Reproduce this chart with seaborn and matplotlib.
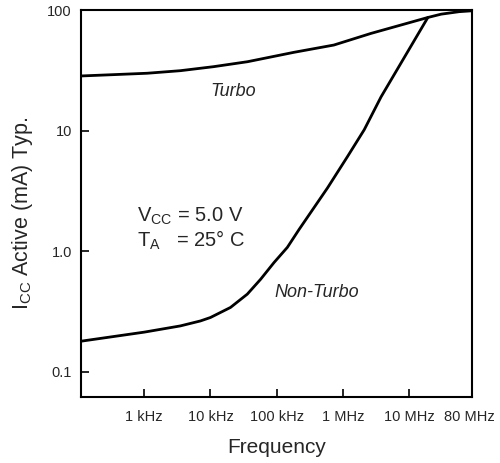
import numpy as np
import pandas as pd
import matplotlib
matplotlib.use("Agg")
import matplotlib.pyplot as plt
import seaborn as sns

# data (Hz, mA)
turbo_freq = [114, 339, 1.11e3, 3.51e3, 1.11e4, 3.64e4, 1.15e5, 1.81e5, 7.31e5, 2.66e6,
              8.4e6, 1.92e7, 3.05e7, 5.7e7, 9.3e7]
turbo_icc = [28.5, 29.2, 30.0, 31.5, 34.0, 37.4, 42.5, 44.7, 51.4, 64.2,
             76.6, 87.0, 92.7, 97.2, 99.0]

nonturbo_freq = [111, 1.0e3, 3.51e3, 7.06e3, 1.0e4, 2.01e4, 3.6e4, 5.72e4, 9.1e4, 1.45e5,
                 2.18e5, 5.86e5, 1.18e6, 2.10e6, 3.77e6, 5.73e6, 1.92e7]
nonturbo_icc = [0.180, 0.214, 0.241, 0.265, 0.283, 0.343, 0.442, 0.587, 0.807, 1.08,
                1.52, 3.36, 6.14, 10.2, 19.1, 28.2, 87.0]

xtick_vals = [1e3, 1e4, 1e5, 1e6, 1e7, 8e7]
xtick_labels = ["1 kHz", "10 kHz", "100 kHz", "1 MHz", "10 MHz", "80 MHz"]
ytick_vals = [0.1, 1, 10, 100]
ytick_labels = ["0.1", "1.0", "10", "100"]

sns.set_style("white")
plt.rcParams["font.family"] = ["Liberation Sans", "DejaVu Sans"]
plt.rcParams["mathtext.default"] = "regular"

df = pd.concat([
    pd.DataFrame({"freq": turbo_freq, "icc": turbo_icc, "mode": "Turbo"}),
    pd.DataFrame({"freq": nonturbo_freq, "icc": nonturbo_icc, "mode": "Non-Turbo"}),
])

fig = plt.figure(figsize=(5, 4.63), dpi=100)
ax = fig.add_axes([0.162, 0.1425, 0.782, 0.8355])
sns.lineplot(data=df, x="freq", y="icc", hue="mode", palette=["black", "black"],
             linewidth=2.0, legend=False, ax=ax, sort=False)
ax.set_xscale("log")
ax.set_yscale("log")
ax.set_xlim(10 ** 2.045, 10 ** 7.95)
ax.set_ylim(0.062, 100)

ax.set_xticks(xtick_vals)
ax.set_xticklabels(xtick_labels, fontsize=10.5)
ax.set_yticks(ytick_vals)
ax.set_yticklabels(ytick_labels, fontsize=10.5)
ax.minorticks_off()
ax.tick_params(axis="both", direction="in", length=6, width=1.2, color="black",
               bottom=True, left=True)
ax.tick_params(axis="x", pad=9.5)
ax.tick_params(axis="y", pad=6.5)
# no tick at the 80 MHz edge label
ax.xaxis.get_major_ticks()[-1].tick1line.set_visible(False)

for s in ax.spines.values():
    s.set_color("black")
    s.set_linewidth(1.5)

ax.set_xlabel("Frequency", fontsize=15, labelpad=10)
ax.set_ylabel(r"I$_{CC}$ Active (mA) Typ.", fontsize=15.5)
ax.yaxis.set_label_coords(-0.118, 0.475)

ax.text(2.2e4, 21, "Turbo", fontsize=13, style="italic", ha="center", va="center")
ax.text(4.0e5, 0.458, "Non-Turbo", fontsize=13, style="italic", ha="center", va="center")
ax.text(783, 1.95, r"V$_{CC}$ = 5.0 V", fontsize=14.5, ha="left", va="center")
ax.text(783, 1.24, r"T$_{A}$   = 25° C", fontsize=14.5, ha="left", va="center")

fig.savefig("out.png", dpi=100)
